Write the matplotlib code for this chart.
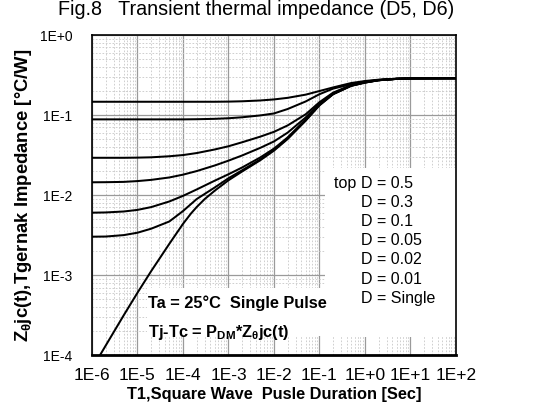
import numpy as np
import matplotlib
matplotlib.use('Agg')
import matplotlib.pyplot as plt
from matplotlib.ticker import FixedLocator, LogLocator, NullFormatter
from matplotlib.patches import Rectangle

plt.rcParams['font.family'] = ['Liberation Sans', 'DejaVu Sans']
plt.rcParams['mathtext.fontset'] = 'custom'
plt.rcParams['mathtext.rm'] = 'Liberation Sans'
plt.rcParams['mathtext.bf'] = 'Liberation Sans:bold'
plt.rcParams['mathtext.default'] = 'bf'

# pulse duration [sec]
t = [1e-6, 2e-6, 5e-6, 1e-5, 2e-5, 5e-5, 1e-4, 2e-4, 5e-4, 1e-3, 2e-3, 5e-3,
     1e-2, 2e-2, 5e-2, 1e-1, 2e-1, 5e-1, 1, 2, 5, 10, 100]

# thermal impedance [C/W], one list per duty cycle
z_d05 = [0.1466, 0.1466, 0.1466, 0.1466, 0.1466, 0.1466, 0.1466, 0.1466, 0.1466, 0.1472, 0.1486, 0.1521,
         0.1567, 0.1641, 0.1799, 0.1995, 0.2213, 0.2512, 0.2661, 0.2767, 0.2844, 0.2871, 0.2884]
z_d03 = [0.0883, 0.0883, 0.0883, 0.0883, 0.0883, 0.0883, 0.0883, 0.0887, 0.0897, 0.0912, 0.0938, 0.0989,
         0.1047, 0.1189, 0.1479, 0.1820, 0.2138, 0.2427, 0.2618, 0.2742, 0.2838, 0.2871, 0.2884]
z_d01 = [0.02924, 0.02924, 0.02924, 0.02938, 0.02965, 0.03055, 0.03162, 0.0335, 0.03715, 0.04074, 0.04571, 0.0537,
         0.06166, 0.07413, 0.1023, 0.1445, 0.1905, 0.2371, 0.2582, 0.2735, 0.2838, 0.2871, 0.2884]
z_d005 = [0.01445, 0.01449, 0.01462, 0.01496, 0.01549, 0.0166, 0.01799, 0.01995, 0.02344, 0.02692, 0.03126, 0.0389,
          0.04677, 0.06026, 0.0933, 0.1396, 0.1862, 0.2344, 0.2570, 0.2729, 0.2831, 0.2871, 0.2884]
z_d002 = [0.006026, 0.006067, 0.006237, 0.006531, 0.007079, 0.008318, 0.009772, 0.01175, 0.01514, 0.0182, 0.02213, 0.02951,
          0.03802, 0.05248, 0.0881, 0.1349, 0.1841, 0.2333, 0.2553, 0.2723, 0.2831, 0.2871, 0.2884]
z_d001 = [0.00302, 0.003034, 0.003162, 0.003388, 0.003802, 0.004677, 0.00631, 0.008913, 0.01245, 0.01622, 0.02042, 0.02786,
          0.03673, 0.05129, 0.0861, 0.1334, 0.1828, 0.2323, 0.2547, 0.2723, 0.2831, 0.2871, 0.2884]

t_single = [1.5e-6, 2e-6, 5e-6, 1e-5, 2e-5, 5e-5, 1e-4, 1.5e-4, 2e-4, 3e-4, 5e-4, 1e-3, 2e-3, 5e-3,
            1e-2, 2e-2, 5e-2, 1e-1, 2e-1, 5e-1, 1, 2, 5, 10, 100]
z_single = [1e-4, 1.318e-4, 3.162e-4, 6.026e-4, 0.001122, 0.002455, 0.004365, 0.005888, 0.007079, 0.008913, 0.01135,
            0.01531, 0.01972, 0.02723, 0.03589, 0.05012, 0.08511, 0.1318, 0.1820, 0.2317, 0.2541, 0.2723, 0.2831,
            0.2871, 0.2884]

x_ticks = [1e-6, 1e-5, 1e-4, 1e-3, 1e-2, 1e-1, 1, 10, 100]
x_labels = ['1E-6', '1E-5', '1E-4', '1E-3', '1E-2', '1E-1', '1E+0', '1E+1', '1E+2']
y_ticks = [1e-4, 1e-3, 1e-2, 1e-1, 1]
y_labels = ['1E-4', '1E-3', '1E-2', '1E-1', '1E+0']

legend_lines = ['D = 0.5', 'D = 0.3', 'D = 0.1', 'D = 0.05', 'D = 0.02', 'D = 0.01', 'D = Single']

fig = plt.figure(figsize=(5.35, 4.12), dpi=100)
ax = fig.add_axes([0.172, 0.138, 0.68, 0.777])

ax.set_xscale('log')
ax.set_yscale('log')
ax.set_xlim(1e-6, 1e2)
ax.set_ylim(1e-4, 1)

# grid
ax.set_axisbelow(True)
ax.xaxis.set_major_locator(FixedLocator(x_ticks))
ax.yaxis.set_major_locator(FixedLocator(y_ticks))
ax.xaxis.set_minor_locator(LogLocator(base=10, subs=np.arange(2, 10)))
ax.yaxis.set_minor_locator(LogLocator(base=10, subs=np.arange(2, 10)))
ax.xaxis.set_minor_formatter(NullFormatter())
ax.yaxis.set_minor_formatter(NullFormatter())
ax.grid(which='major', color='#9a9a9a', linewidth=0.9)
ax.grid(which='minor', color='#c8c8c8', linewidth=0.6, linestyle=(0, (2, 2)))

# white areas behind the notes
ax.add_patch(Rectangle((0.64, 0.056), 0.36, 0.528, transform=ax.transAxes,
                       facecolor='white', edgecolor='none', zorder=1))
ax.add_patch(Rectangle((0.151, 0.059), 0.49, 0.15, transform=ax.transAxes,
                       facecolor='white', edgecolor='none', zorder=1))

for z in [z_d05, z_d03, z_d01, z_d005, z_d002, z_d001]:
    ax.plot(t, z, color='black', linewidth=1.45, zorder=3)
ax.plot(t_single, z_single, color='black', linewidth=1.45, zorder=3)

ax.set_xticklabels(x_labels, fontsize=12.5)
ax.set_yticklabels(y_labels, fontsize=10)
ax.tick_params(which='both', length=0)
ax.tick_params(axis='x', pad=9)
ax.tick_params(axis='y', pad=14)

for s in ax.spines.values():
    s.set_linewidth(1.2)
ax.spines['bottom'].set_linewidth(2)

ax.set_xlabel('T1,Square Wave  Pusle Duration [Sec]', fontsize=11.8, fontweight='bold', labelpad=3)
ax.set_ylabel('Z$_{θ}$jc(t),Tgernak Impedance [°C/W]', fontsize=13.3, fontweight='bold', labelpad=4)
fig.text(0.4785, 0.9636, 'Fig.8   Transient thermal impedance (D5, D6)', fontsize=14.2,
         ha='center', va='baseline')

# notes
ax.text(0.154, 0.1625, 'Ta = 25°C  Single Pulse', transform=ax.transAxes,
        fontsize=11.8, fontweight='bold', va='center', ha='left', zorder=4)
ax.text(0.154, 0.072, 'Tj-Tc = P$_{DM}$*Z$_{θ}$jc(t)', transform=ax.transAxes,
        fontsize=11.8, fontweight='bold', va='center', ha='left', zorder=4)

ax.text(0.738, 0.5366, 'top ', transform=ax.transAxes, fontsize=11.5,
        va='center', ha='right', zorder=4)
for i, s in enumerate(legend_lines):
    ax.text(0.738, 0.5366 - i * 0.0598, s, transform=ax.transAxes, fontsize=11.5,
            va='center', ha='left', zorder=4)

plt.savefig('out.png', dpi=100)
